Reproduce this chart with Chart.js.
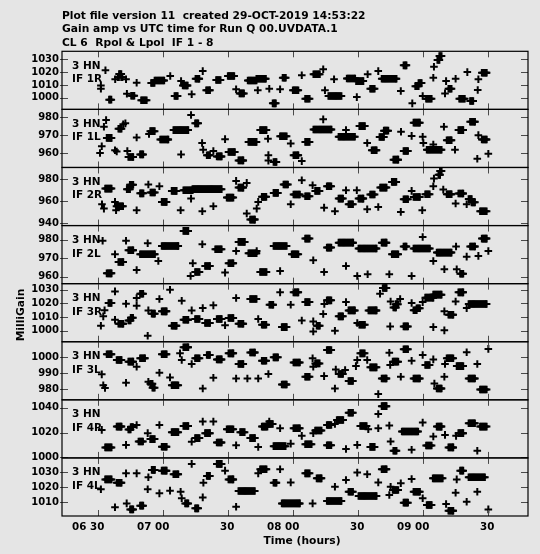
<!DOCTYPE html>
<html>
<head>
<meta charset="utf-8">
<script src="https://cdn.jsdelivr.net/npm/chart.js@4"></script>
<style>
  html, body { margin: 0; padding: 0; background: #e5e5e5; }
  canvas { display: block; }
</style>
</head>
<body>
<canvas id="gainChart" width="540" height="554"></canvas>
<script>
// times are minutes after 06:00 UT, gains in MilliGain
const titleLines = [
    'Plot file version 11  created 29-OCT-2019 14:53:22',
    'Gain amp vs UTC time for Run Q 00.UVDATA.1',
    'CL 6  Rpol & Lpol  IF 1 - 8'
];
const antenna = '3 HN';
const panelNames = ['IF 1R', 'IF 1L', 'IF 2R', 'IF 2L', 'IF 3R', 'IF 3L', 'IF 4R', 'IF 4L'];
const timeTicks = [30, 60, 90, 120, 150, 180, 210];
const timeLabels = ['06 30', '07 00', '30', '08 00', '30', '09 00', '30'];
const gainTicks = [
    [1000, 1010, 1020, 1030], [960, 970, 980], [940, 960, 980], [960, 970, 980],
    [1000, 1010, 1020, 1030], [980, 990, 1000], [1000, 1020, 1040], [1010, 1020, 1030]
];

// scans: [start, end, gain]   singles: [time, gain]
const if1rScans = [
    [35.0, 36.0, 998.5], [39.0, 39.6, 1016], [39.6, 40.6, 1018.5], [40.6, 41.2, 1016],
    [45.2, 46.6, 1001.5], [49.8, 52.4, 998], [54.4, 56.0, 1011.5], [56.0, 60.4, 1013.5],
    [65.2, 66.6, 1001.3], [69.0, 71.2, 1009.5], [74.9, 76.6, 1014.8], [79.8, 81.5, 1005.8],
    [84.4, 86.5, 1013.8], [89.8, 92.7, 1017], [95.2, 97.3, 1003.4], [99.0, 103.0, 1013.5],
    [103.0, 107.3, 1014.8], [110.5, 111.9, 995.6], [115.1, 116.5, 1015.6], [119.8, 122.3, 1005.8],
    [125.5, 127.6, 999.2], [129.3, 132.2, 1018.3], [136.2, 142.2, 1001.3], [144.7, 148.5, 1015],
    [149.0, 152.3, 1013], [155.5, 157.6, 1007], [160.8, 167.6, 1014.8], [170.9, 172.2, 1025.3],
    [176.3, 177.8, 1009], [177.8, 179.2, 1011.5], [181.3, 183.8, 999.2], [186.5, 187.4, 1029.5],
    [187.4, 188.4, 1032.5], [191.6, 193.0, 1007], [196.6, 199.2, 999.2], [201.6, 203.0, 997.4],
    [207.0, 209.2, 1019.5]
];
const if1rSingles = [
    [31.2, 1009.5], [31.2, 1007], [33.3, 1021.5], [37.8, 1014.4], [42.8, 1014.4], [47.7, 1011.7],
    [43.2, 1003.1], [63.2, 1017], [68.2, 1013], [73.1, 1002.7], [78.2, 1020.8], [93.6, 1006.6],
    [103.6, 1005.8], [108.9, 1007], [113.9, 1006.6], [123.9, 1017.5], [133.8, 1022.2], [134.6, 1005.8],
    [138.8, 1014.4], [149.3, 1000.5], [154.3, 1018.3], [159.2, 1020.8], [169.6, 1005.2], [174.9, 995.6],
    [179.7, 1001.3], [184.6, 1015.6], [184.9, 1024.2], [190.5, 1013], [190.0, 1003.4], [194.9, 1014.8],
    [200.3, 1020], [205.1, 1006], [205.4, 1014.4]
];

const if1lScans = [
    [33.9, 36.1, 968.5], [39.3, 40.7, 973.5], [43.9, 46.1, 958], [49.3, 50.7, 959.4],
    [54.0, 56.1, 972.2], [58.6, 62.3, 967.6], [64.7, 71.5, 972.8], [74.7, 76.1, 976.5],
    [80.1, 81.5, 958.9], [84.7, 86.9, 958.3], [90.1, 93.0, 960.7], [94.7, 96.9, 956.1],
    [99.3, 103.0, 966.3], [104.7, 107.6, 972.8], [110.9, 112.2, 955.2], [113.9, 116.9, 969.4],
    [120.1, 122.3, 958.9], [125.5, 127.6, 966.3], [129.3, 137.6, 973.1], [140.9, 148.4, 969.1],
    [150.5, 153.0, 975], [156.2, 158.4, 961.7], [159.8, 161.8, 969], [161.8, 163.8, 972.5],
    [166.2, 168.4, 956.5], [170.9, 173.0, 961.3], [175.5, 178.4, 976.9], [181.6, 188.4, 962],
    [190.8, 193.0, 967.2], [196.2, 198.4, 972.8], [201.6, 203.8, 977.4], [207.0, 209.2, 967.6]
];
const if1lSingles = [
    [30.8, 960.2], [31.6, 963.9], [32.6, 974.6], [33.6, 978.3], [37.7, 961.7], [38.5, 961],
    [41.5, 976], [42.5, 976.5], [43.4, 961.3], [47.7, 968.7], [53.4, 970.6], [68.2, 959.4],
    [72.8, 981.1], [77.9, 965.7], [78.4, 962], [83.1, 961.3], [88.5, 967.8], [108.3, 968],
    [108.5, 959], [108.5, 956], [118.8, 965.4], [123.9, 955.7], [133.8, 978.7], [144.3, 972.8],
    [154.1, 965.7], [169.7, 971.9], [174.6, 969.6], [179.7, 969.1], [180.0, 965.7], [184.6, 964.8],
    [189.5, 974.6], [194.6, 962], [204.9, 957], [205.4, 970], [210.0, 959.8]
];

const if2rScans = [
    [33.2, 36.1, 971.5], [38.4, 41.5, 955.5], [43.2, 44.6, 971], [44.6, 46.1, 975],
    [49.3, 50.9, 967.2], [54.1, 56.1, 968], [59.3, 61.5, 959.4], [63.9, 66.1, 969.4],
    [69.3, 73.5, 970], [73.5, 86.9, 971], [89.3, 92.3, 963.3], [94.7, 96.9, 972.4],
    [100.1, 102.2, 943.3], [105.5, 107.6, 964], [110.9, 113.0, 967.6], [115.5, 117.6, 975.2],
    [120.1, 123.0, 966.1], [125.5, 127.6, 964.5], [130.1, 132.2, 969.4], [135.5, 137.6, 973.6],
    [140.9, 143.0, 962.4], [145.5, 147.6, 957.3], [150.1, 152.3, 962.4], [155.5, 157.6, 966.1],
    [160.1, 163.0, 972.4], [165.5, 167.6, 977.6], [170.9, 173.0, 961.8], [175.5, 178.4, 963.9],
    [180.9, 183.0, 966.4], [187.0, 187.7, 984], [187.7, 188.4, 987.5], [190.8, 193.0, 966.4],
    [196.2, 198.4, 967], [200.9, 202.3, 962], [202.3, 203.8, 959], [206.2, 209.2, 950.9]
];
const if2rSingles = [
    [31.7, 957.3], [32.6, 953.3], [37.7, 959.4], [38.2, 951.8], [47.7, 951.8], [53.1, 975.2],
    [58.2, 973.6], [68.0, 951.8], [72.8, 962.4], [78.0, 950.9], [83.1, 955.5], [93.6, 978.5],
    [98.5, 976.7], [98.5, 948.8], [103.1, 953.3], [103.8, 959.4], [118.8, 957.3], [123.9, 979.1],
    [128.9, 974.5], [134.2, 954.2], [139.2, 950.9], [144.3, 970], [149.3, 970], [154.1, 952.7],
    [159.2, 954.8], [169.6, 950.3], [174.6, 969.4], [179.5, 951.8], [184.6, 973.6], [184.9, 980.6],
    [189.2, 970.6], [194.9, 957.9], [200.0, 957.3]
];

const if2lScans = [
    [33.9, 36.1, 961.8], [39.3, 41.5, 968], [43.9, 46.1, 974.4], [49.3, 56.1, 972.2],
    [59.3, 66.9, 976.7], [69.3, 71.5, 984.9], [74.7, 76.8, 962.5], [79.3, 81.5, 965.8],
    [84.0, 86.9, 974.9], [90.1, 92.3, 967.3], [94.7, 97.6, 978.9], [99.3, 103.0, 972.7],
    [104.7, 107.6, 962.5], [110.9, 116.9, 976.7], [119.3, 122.3, 972.2], [125.5, 127.6, 980.7],
    [135.5, 137.6, 975.8], [140.9, 147.6, 978.5], [150.1, 158.4, 975.3], [160.8, 163.0, 978.5],
    [165.5, 168.4, 972.2], [170.9, 172.2, 976.4], [175.5, 183.0, 975.3], [186.2, 193.0, 973.1],
    [197.0, 198.4, 961.6], [201.6, 203.8, 976.4], [207.0, 209.2, 980.7]
];
const if2lSingles = [
    [32.0, 979.5], [37.7, 972.2], [42.8, 979.5], [47.7, 963.6], [52.8, 978.2], [57.7, 968.5],
    [72.6, 960.4], [73.6, 967.3], [78.0, 977.6], [88.5, 962.2], [93.6, 974], [103.1, 974],
    [113.9, 963.1], [129.2, 968.9], [134.2, 962.5], [144.3, 965.8], [149.5, 960.4], [154.3, 961.3],
    [164.3, 961.3], [174.6, 960.4], [179.7, 981.6], [184.6, 968.5], [189.7, 964], [195.1, 976.4],
    [195.4, 964], [200.0, 970.9], [205.4, 971.3], [210.0, 974]
];

const if3rScans = [
    [34.7, 36.1, 1020.3], [39.3, 41.5, 1005.1], [43.9, 45.0, 1007.5], [45.0, 46.1, 1009.5],
    [49.3, 50.7, 1027.2], [54.7, 56.1, 1012.5], [59.3, 61.5, 1014.2], [63.9, 66.1, 1003.6],
    [69.3, 71.5, 1008], [74.7, 76.8, 1008.5], [79.3, 81.5, 1005.6], [84.7, 86.9, 1008.5],
    [90.1, 92.3, 1009.3], [94.7, 96.9, 1005.1], [100.1, 103.0, 1023.3], [105.5, 107.6, 1004.3],
    [109.0, 110.7, 1019.1], [114.7, 116.9, 1002.6], [120.1, 122.3, 1028.2], [125.5, 127.6, 1021],
    [130.8, 132.2, 1003.6], [135.5, 137.6, 1022.3], [140.9, 143.0, 1010.5], [145.5, 148.4, 1014.9],
    [150.5, 153.0, 1004.3], [154.7, 158.4, 1014.9], [161.3, 163.0, 1031.4], [166.2, 167.3, 1017],
    [167.3, 168.4, 1019.5], [170.9, 173.0, 1003.1], [175.5, 176.9, 1015], [176.9, 178.4, 1016.5],
    [180.9, 184.6, 1024.3], [184.6, 188.4, 1026.5], [191.6, 193.8, 1011.7], [196.2, 198.4, 1028.2],
    [200.9, 209.2, 1019.6]
];
const if3rSingles = [
    [31.2, 1003.6], [32.3, 1010.5], [32.9, 1015], [37.7, 1028.9], [37.7, 1008], [42.8, 1019.8],
    [47.7, 1018.4], [47.7, 1024], [52.8, 996.2], [53.1, 1014.9], [58.2, 1023.3], [63.1, 1030.1],
    [68.5, 1022], [73.1, 1014.9], [78.2, 1016.6], [83.1, 1018.6], [88.5, 1003.9], [93.6, 1024],
    [103.8, 1008.5], [113.9, 1028.2], [118.8, 1019.1], [123.9, 1007.5], [129.2, 1006.8], [129.2, 999.4],
    [133.8, 1012.2], [134.3, 1019.6], [139.2, 999.9], [144.3, 1021], [149.5, 1005.6], [160.0, 1027.2],
    [164.7, 1003.1], [164.9, 1021.5], [169.3, 1023.3], [174.6, 1020.3], [179.7, 1021], [184.6, 1002.6],
    [189.7, 1000.2], [189.7, 1014.2], [194.9, 1021.5], [200.0, 1016.6]
];

const if3lScans = [
    [33.9, 36.1, 1002], [38.5, 40.7, 998.4], [43.9, 46.1, 997.4], [49.3, 51.5, 999.5],
    [54.0, 55.0, 983.5], [55.0, 56.1, 981], [59.3, 61.5, 1002], [63.9, 66.9, 982.6],
    [69.3, 71.5, 1006.4], [74.7, 76.8, 999.5], [80.1, 81.5, 1001.6], [84.7, 86.9, 998.8],
    [90.1, 92.3, 1002.6], [94.7, 96.9, 995.9], [100.1, 102.2, 1003.1], [105.5, 107.6, 998],
    [110.9, 113.0, 1000.1], [114.7, 116.9, 983], [120.1, 123.0, 996.9], [125.5, 127.6, 987.9],
    [130.1, 132.2, 996.3], [135.5, 137.6, 1004.7], [140.9, 143.0, 989.6], [145.5, 147.6, 985.2],
    [150.9, 153.0, 1002.6], [155.5, 158.4, 993.8], [160.8, 163.0, 986.8], [165.9, 168.4, 997.4],
    [170.9, 173.0, 1005.2], [175.5, 178.4, 986.8], [180.9, 183.0, 995.3], [186.2, 188.4, 980.5],
    [190.8, 193.8, 999.5], [195.4, 198.4, 994.6], [200.9, 203.8, 986.8], [206.2, 209.2, 979.9]
];
const if3lSingles = [
    [31.6, 989.4], [32.3, 982.6], [33.1, 980.9], [42.8, 984.1], [47.7, 994.2], [53.1, 984.7],
    [58.2, 990.4], [63.1, 987.5], [67.7, 1002.6], [68.5, 998.4], [73.1, 995.9], [78.2, 980.5],
    [83.1, 987.3], [93.6, 986.8], [98.8, 986.8], [103.8, 986.8], [108.5, 989.6], [128.9, 999.5],
    [129.2, 994.2], [134.2, 988.3], [139.2, 980.5], [139.6, 992.5], [143.9, 992.1], [148.9, 994.6],
    [149.5, 998.4], [154.1, 998.4], [159.2, 977], [164.3, 1003], [164.7, 995.3], [169.6, 987.9],
    [174.6, 998], [179.7, 1001.6], [184.6, 998.8], [185.1, 983.7], [189.7, 987.9], [190.0, 995.9],
    [200.0, 1003.3], [204.9, 995.9], [210.0, 1005.4]
];

const if4rScans = [
    [33.2, 36.1, 1008], [38.5, 40.7, 1024.8], [43.9, 45.0, 1022.5], [45.0, 46.1, 1024.5],
    [48.6, 50.7, 1012.8], [54.0, 56.1, 1014.7], [59.3, 61.5, 1008.5], [63.9, 66.9, 1020.3],
    [69.3, 71.5, 1025.3], [74.7, 76.8, 1015.5], [79.3, 81.5, 1019.5], [84.7, 86.9, 1012],
    [89.3, 92.3, 1022.7], [95.5, 97.6, 1020.3], [100.1, 102.2, 1015.5], [105.5, 108.0, 1024.8],
    [108.0, 110.5, 1026.9], [110.9, 116.4, 1009], [120.1, 123.0, 1023.5], [125.5, 128.4, 1010.5],
    [130.1, 133.0, 1021.6], [135.5, 137.6, 1026.1], [135.5, 137.6, 1009.7], [140.1, 143.0, 1030.1],
    [145.5, 147.6, 1036], [150.9, 153.8, 1025.3], [155.5, 157.6, 1008.4], [160.8, 163.0, 1041.3],
    [166.2, 167.6, 1005.3], [170.1, 177.6, 1020.8], [181.3, 183.8, 1009.5], [186.2, 188.4, 1024.8],
    [191.6, 193.8, 1008], [196.2, 198.4, 1019.5], [200.9, 203.8, 1027.5], [206.2, 209.2, 1024.8]
];
const if4rSingles = [
    [31.6, 1022.1], [42.8, 1010], [47.7, 1026.1], [52.8, 1019.5], [58.2, 1026.1], [73.1, 1012.5],
    [78.2, 1028.8], [83.1, 1028.8], [93.6, 1009.7], [103.8, 1008.3], [108.9, 1028.8], [113.9, 1023.5],
    [118.8, 1011], [123.9, 1017.3], [129.2, 1019.5], [139.2, 1026.9], [144.3, 1006.7], [149.5, 1010],
    [154.6, 1022.7], [159.2, 1023.5], [159.2, 1034.9], [164.3, 1025.6], [164.9, 1012.8], [174.6, 1006.1],
    [179.7, 1028], [184.6, 1016.8], [190.0, 1018.1], [195.1, 1017.3], [204.9, 1005.3]
];

const if4lScans = [
    [33.2, 36.1, 1025.3], [38.5, 40.7, 1023.1], [44.7, 46.1, 1005.3], [49.3, 50.7, 1007.8],
    [54.7, 56.1, 1031.6], [59.3, 61.5, 1031.1], [64.7, 66.9, 1028.7], [70.1, 71.5, 1009.3],
    [74.7, 76.1, 1006], [80.1, 81.5, 1027.6], [84.7, 86.9, 1035.6], [90.1, 92.3, 1025.3],
    [94.7, 102.2, 1017.6], [104.7, 107.6, 1032], [110.9, 112.2, 1023.1], [114.7, 123.0, 1009.3],
    [125.5, 127.6, 1029.3], [130.8, 133.0, 1026], [135.5, 142.2, 1010.9], [145.5, 147.6, 1017.1],
    [150.1, 158.4, 1014.2], [160.8, 163.0, 1032], [165.9, 168.4, 1018.2], [170.9, 173.0, 1009.8],
    [175.5, 178.4, 1017.1], [181.6, 183.8, 1008.2], [184.4, 189.0, 1026], [191.6, 193.8, 1004.4],
    [197.0, 198.4, 1031.1], [200.9, 208.4, 1026.7]
];
const if4lSingles = [
    [31.2, 1018.7], [37.7, 1006.7], [42.8, 1029.3], [43.1, 1009.3], [47.7, 1029.3], [52.8, 1018.7],
    [53.1, 1026.7], [58.2, 1016], [63.1, 1017.8], [68.0, 1017.1], [68.5, 1012.7], [73.1, 1035.6],
    [78.2, 1013.3], [78.5, 1023.1], [88.5, 1031.1], [93.6, 1007.1], [103.8, 1029.3], [113.9, 1032],
    [118.8, 1023.3], [128.9, 1009.3], [139.2, 1020.4], [144.3, 1024.9], [149.5, 1029.8], [154.1, 1028.7],
    [159.2, 1023.3], [164.3, 1014.9], [164.9, 1020.4], [169.6, 1022.7], [174.6, 1025.6], [179.7, 1012.7],
    [190.5, 1008.9], [194.9, 1016.4], [195.4, 1025.3], [200.0, 1010.4], [204.9, 1017.1], [210.0, 1005.3]
];

const allScans = [if1rScans, if1lScans, if2rScans, if2lScans, if3rScans, if3lScans, if4rScans, if4lScans];
const allSingles = [if1rSingles, if1lSingles, if2rSingles, if2lSingles, if3rSingles, if3lSingles, if4rSingles, if4lSingles];

// axis limits of each panel
const panelLimits = [
    [990.9, 1036.25], [952.2, 984.2], [937.9, 990.7], [956.2, 987.8],
    [991.8, 1034.6], [973.4, 1009.9], [999.5, 1046.4], [1000.9, 1039.6]
];

const solInt = 0.5; // solution interval inside a scan (min)
const fontBold = '"DejaVu Sans", sans-serif';

function toPoints(scans, singles) {
    const pts = [];
    scans.forEach(([t0, t1, g]) => {
        let t = t0;
        for (; t <= t1 + 0.001; t += solInt) pts.push({x: t, y: g});
        if (t - solInt < t1 - 0.1) pts.push({x: t1, y: g});
    });
    singles.forEach(([t, g]) => pts.push({x: t, y: g}));
    return pts;
}

const scales = {};
// stacked left axes are placed top-down from the last one defined, so add them in reverse
for (let i = panelNames.length - 1; i >= 0; i--) {
    scales['y' + i] = {
        type: 'linear',
        position: 'left',
        stack: 'ifs',
        stackWeight: 1,
        min: panelLimits[i][0],
        max: panelLimits[i][1],
        afterBuildTicks: s => { s.ticks = gainTicks[i].map(v => ({value: v})); },
        afterFit: s => { s.width = 62; },
        grid: {display: false, drawTicks: false},
        border: {display: false},
        ticks: {
            autoSkip: false, padding: 3, color: '#000',
            font: {family: fontBold, size: 10, weight: 'bold'},
            callback: v => String(v)
        }
    };
}
scales.x = {
    type: 'linear',
    min: 13.25,
    max: 228.3,
    afterBuildTicks: s => { s.ticks = timeTicks.map(v => ({value: v})); },
    afterFit: s => { s.height = 38; },
    grid: {display: false, drawTicks: false},
    border: {display: false},
    ticks: {
        autoSkip: false, maxRotation: 0, align: 'end', labelOffset: 6, padding: 5,
        color: '#000',
        font: {family: fontBold, size: 10.3, weight: 'bold'},
        callback: (v, i) => timeLabels[i]
    }
};

const datasets = panelNames.map((name, i) => ({
    label: name,
    data: toPoints(allScans[i], allSingles[i]),
    yAxisID: 'y' + i,
    pointStyle: 'cross',
    pointRadius: 3.8,
    pointBorderWidth: 2,
    borderColor: '#000',
    backgroundColor: '#000'
}));

const aipsFrame = {
    id: 'aipsFrame',
    beforeDraw(chart) {
        const ctx = chart.ctx;
        ctx.save();
        ctx.fillStyle = '#e5e5e5';
        ctx.fillRect(0, 0, chart.width, chart.height);
        ctx.restore();
    },
    afterDatasetsDraw(chart) {
        const {ctx, chartArea} = chart;
        const xs = chart.scales.x;
        ctx.save();
        panelNames.forEach((name, i) => {
            const ys = chart.scales['y' + i];
            ctx.strokeStyle = '#4a4a4a';
            ctx.lineWidth = 1;
            ctx.beginPath();
            ys.ticks.forEach(t => {
                const y = Math.round(ys.getPixelForValue(t.value)) + 0.5;
                ctx.moveTo(chartArea.left - 2, y);
                ctx.lineTo(chartArea.left + 6, y);
                ctx.moveTo(chartArea.right - 7, y);
                ctx.lineTo(chartArea.right, y);
            });
            xs.ticks.forEach(t => {
                const x = Math.round(xs.getPixelForValue(t.value)) + 0.5;
                ctx.moveTo(x, ys.top);
                ctx.lineTo(x, ys.top + 6);
                ctx.moveTo(x, ys.bottom - 6);
                ctx.lineTo(x, ys.bottom);
            });
            ctx.stroke();
            ctx.strokeStyle = '#000';
            ctx.lineWidth = 1.2;
            ctx.strokeRect(chartArea.left, ys.top, chartArea.right - chartArea.left, ys.bottom - ys.top);
            ctx.fillStyle = '#000';
            ctx.font = 'bold 10.5px ' + fontBold;
            ctx.textAlign = 'left';
            ctx.textBaseline = 'alphabetic';
            ctx.fillText(antenna, chartArea.left + 10, ys.top + 17.5);
            ctx.fillText(name, chartArea.left + 10, ys.top + 31);
        });
        ctx.restore();
    },
    afterDraw(chart) {
        const ctx = chart.ctx;
        ctx.save();
        ctx.fillStyle = '#000';
        ctx.font = 'bold 10.7px ' + fontBold;
        ctx.textAlign = 'left';
        ctx.textBaseline = 'alphabetic';
        titleLines.forEach((line, k) => ctx.fillText(line, 62, 19 + k * 13.4));
        ctx.textAlign = 'center';
        ctx.fillText('Time (hours)', 302, 544);
        ctx.translate(21, 315);
        ctx.rotate(-Math.PI / 2);
        ctx.textBaseline = 'middle';
        ctx.fillText('MilliGain', 0, 0);
        ctx.restore();
    }
};

new Chart(document.getElementById('gainChart'), {
    type: 'scatter',
    data: {datasets: datasets},
    options: {
        responsive: false,
        animation: false,
        events: [],
        layout: {padding: {top: 51.3, right: 12, bottom: 0, left: 0}},
        plugins: {legend: {display: false}, tooltip: {enabled: false}},
        scales: scales
    },
    plugins: [aipsFrame]
});
</script>
</body>
</html>
